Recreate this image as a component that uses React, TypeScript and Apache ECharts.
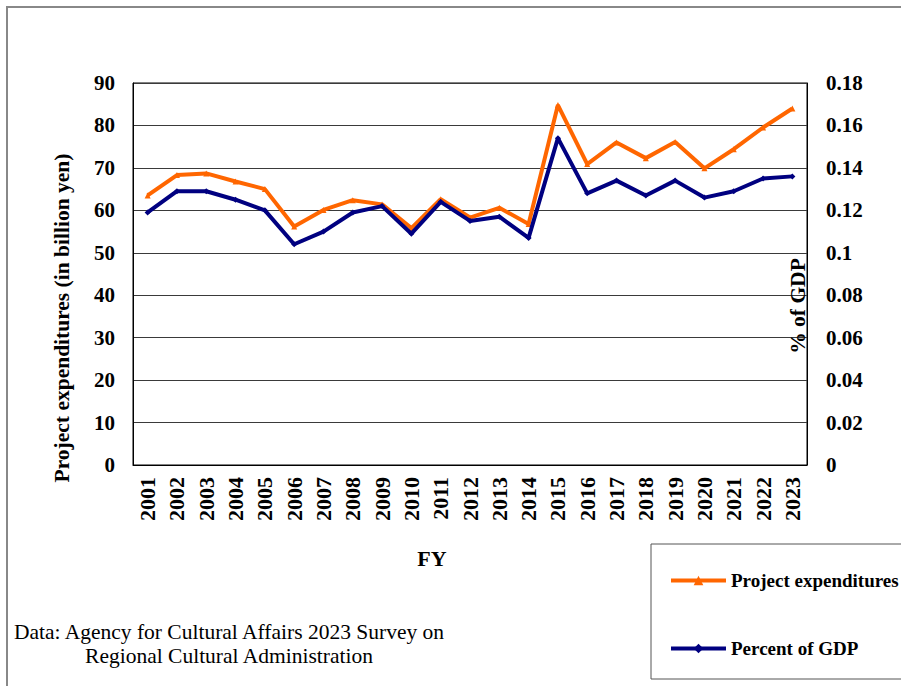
import React, { useEffect, useRef } from "react";
import * as echarts from "echarts";

// Fiscal years on the category axis
const years = [
  "2001", "2002", "2003", "2004", "2005", "2006", "2007", "2008", "2009", "2010", "2011", "2012",
  "2013", "2014", "2015", "2016", "2017", "2018", "2019", "2020", "2021", "2022", "2023",
];

// Project expenditures, billion yen (left axis)
const expenditures = [
  63.5, 68.3, 68.7, 66.8, 65.0, 56.2, 60.1, 62.4, 61.4, 55.8, 62.6, 58.3,
  60.6, 56.8, 84.8, 70.9, 76.0, 72.3, 76.1, 69.9, 74.4, 79.5, 84.0,
];

// Share of GDP, percent (right axis)
const percentOfGdp = [
  0.119, 0.129, 0.129, 0.125, 0.120, 0.104, 0.110, 0.119, 0.122, 0.109, 0.124, 0.115,
  0.117, 0.107, 0.154, 0.128, 0.134, 0.127, 0.134, 0.126, 0.129, 0.135, 0.136,
];

const SERIF = '"Liberation Serif", "Times New Roman", serif';
const ORANGE = "#FF6600";
const NAVY = "#000080";

export default function App() {
  const ref = useRef<HTMLDivElement>(null);

  useEffect(() => {
    if (!ref.current) return;
    const chart = echarts.init(ref.current, undefined, { renderer: "svg" });

    chart.setOption({
      animation: false,
      backgroundColor: "#ffffff",
      textStyle: { fontFamily: SERIF },
      grid: {
        left: 133,
        top: 83,
        right: 94,
        bottom: 221,
        show: true,
        borderColor: "#000000",
        borderWidth: 1,
      },
      xAxis: {
        type: "category",
        data: years,
        boundaryGap: true,
        axisLine: { lineStyle: { color: "#000000", width: 1 } },
        axisTick: { inside: true, length: 5, lineStyle: { color: "#000000" } },
        axisLabel: {
          rotate: 90,
          margin: 12,
          interval: 0,
          color: "#000000",
          fontFamily: SERIF,
          fontWeight: "bold",
          fontSize: 22,
        },
        splitLine: { show: false },
      },
      yAxis: [
        {
          type: "value",
          min: 0,
          max: 90,
          interval: 10,
          position: "left",
          axisLine: { show: true, lineStyle: { color: "#000000" } },
          axisTick: { show: false },
          axisLabel: {
            margin: 18,
            color: "#000000",
            fontFamily: SERIF,
            fontWeight: "bold",
            fontSize: 21,
          },
          splitLine: { lineStyle: { color: "#3a3a3a", width: 1 } },
        },
        {
          type: "value",
          min: 0,
          max: 0.18,
          interval: 0.02,
          position: "right",
          axisLine: { show: true, lineStyle: { color: "#000000" } },
          axisTick: { show: false },
          axisLabel: {
            margin: 19,
            color: "#000000",
            fontFamily: SERIF,
            fontWeight: "bold",
            fontSize: 21,
            formatter: (v: number) => String(Number(v.toFixed(2))),
          },
          splitLine: { show: false },
        },
      ],
      legend: {
        left: 664,
        top: 566,
        orient: "vertical",
        itemWidth: 55,
        itemHeight: 12,
        itemGap: 49,
        lineStyle: { width: 4 },
        textStyle: {
          color: "#000000",
          fontFamily: SERIF,
          fontWeight: "bold",
          fontSize: 19,
        },
        data: ["Project expenditures", "Percent of GDP"],
      },
      series: [
        {
          name: "Project expenditures",
          type: "line",
          yAxisIndex: 0,
          data: expenditures,
          symbol: "triangle",
          symbolSize: 6,
          lineStyle: { color: ORANGE, width: 4 },
          itemStyle: { color: ORANGE },
          z: 3,
        },
        {
          name: "Percent of GDP",
          type: "line",
          yAxisIndex: 1,
          data: percentOfGdp,
          symbol: "diamond",
          symbolSize: 6,
          lineStyle: { color: NAVY, width: 4 },
          itemStyle: { color: NAVY },
          z: 4,
        },
      ],
      graphic: [
        // outer chart frame (open to the right and bottom edges)
        {
          type: "polyline",
          shape: { points: [[7, 700], [7, 7], [905, 7]] },
          style: { stroke: "#888888", lineWidth: 2, fill: "none" },
          silent: true,
        },
        // legend frame
        {
          type: "rect",
          shape: { x: 651, y: 544, width: 270, height: 135 },
          style: { stroke: "#555555", lineWidth: 1, fill: "none" },
          silent: true,
          z: -1,
        },
        {
          type: "text",
          x: 62,
          y: 318,
          rotation: Math.PI / 2,
          style: {
            text: "Project expenditures (in billion yen)",
            fontFamily: SERIF,
            fontWeight: "bold",
            fontSize: 21.5,
            fill: "#000000",
            align: "center",
            verticalAlign: "middle",
          },
        },
        {
          type: "text",
          x: 798,
          y: 306,
          rotation: Math.PI / 2,
          z: 10,
          style: {
            text: "% of GDP",
            fontFamily: SERIF,
            fontWeight: "bold",
            fontSize: 21.5,
            fill: "#000000",
            align: "center",
            verticalAlign: "middle",
          },
        },
        {
          type: "text",
          x: 432,
          y: 558,
          style: {
            text: "FY",
            fontFamily: SERIF,
            fontWeight: "bold",
            fontSize: 22,
            fill: "#000000",
            align: "center",
            verticalAlign: "middle",
          },
        },
        {
          type: "text",
          x: 229,
          y: 644,
          style: {
            text: "Data: Agency for Cultural Affairs 2023 Survey on\nRegional Cultural Administration",
            fontFamily: SERIF,
            fontSize: 21.5,
            lineHeight: 24,
            fill: "#000000",
            align: "center",
            verticalAlign: "middle",
          },
        },
      ],
    });

    return () => chart.dispose();
  }, []);

  return (
    <div
      ref={ref}
      style={{ position: "fixed", left: 0, top: 0, width: 901, height: 686, background: "#fff" }}
    />
  );
}
